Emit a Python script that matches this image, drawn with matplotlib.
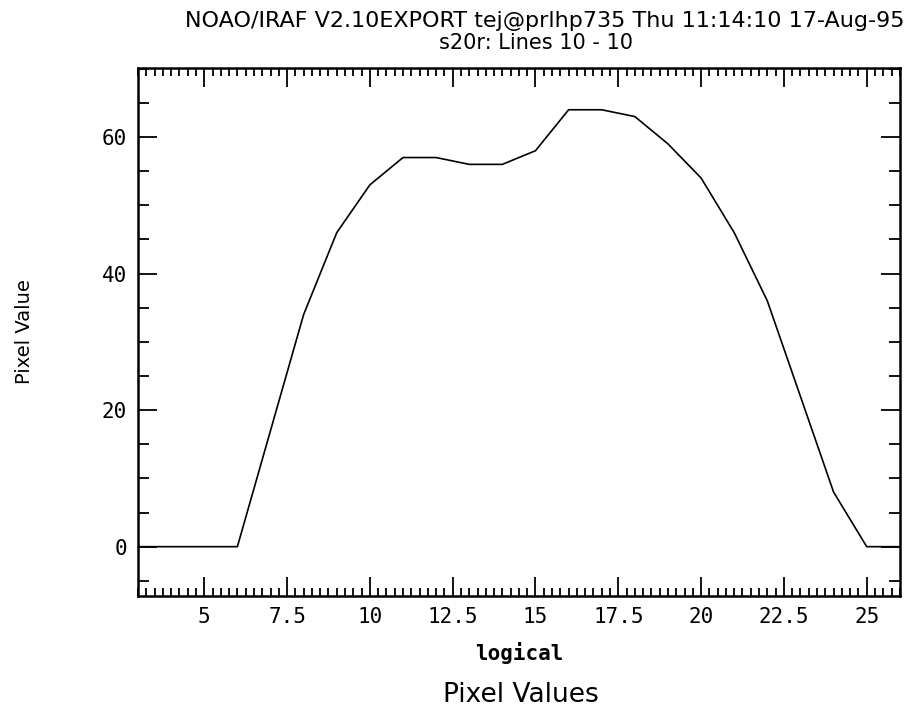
import numpy as np
import matplotlib
matplotlib.use("Agg")
import matplotlib.pyplot as plt
from matplotlib.ticker import MultipleLocator

# pixel number (logical) and value along line 10
pixel = [3, 4, 5, 6, 7, 8, 9, 10, 11, 12, 13, 14, 15, 16, 17, 18, 19, 20,
         21, 22, 23, 24, 25, 26]
value = [0, 0, 0, 0, 17, 34, 46, 53, 57, 57, 56, 56, 58, 64, 64, 63, 59, 54,
         46, 36, 22, 8, 0, 0]

xticks = [5, 7.5, 10, 12.5, 15, 17.5, 20, 22.5, 25]
xticklabels = ["5", "7.5", "10", "12.5", "15", "17.5", "20", "22.5", "25"]

title1 = "NOAO/IRAF V2.10EXPORT tej@prlhp735 Thu 11:14:10 17-Aug-95"
title2 = "s20r: Lines 10 - 10"

mono = "DejaVu Sans Mono"

fig = plt.figure(figsize=(9.08, 7.17), dpi=100)
ax = fig.add_axes([0.152, 0.169, 0.839, 0.736])

ax.plot(pixel, value, color="black", lw=1.2)
ax.set_xlim(3, 26)
ax.set_ylim(-7.2, 70.1)

ax.xaxis.set_minor_locator(MultipleLocator(0.25))
ax.yaxis.set_major_locator(MultipleLocator(20))
ax.yaxis.set_minor_locator(MultipleLocator(5))
ax.set_xticks(xticks)
ax.set_xticklabels(xticklabels)

ax.tick_params(which="both", direction="in", top=True, right=True,
               width=1.3, labelsize=15, pad=8)
ax.tick_params(which="major", length=14)
ax.tick_params(which="minor", length=6)
ax.tick_params(axis="y", which="minor", length=8)
for lab in ax.get_xticklabels() + ax.get_yticklabels():
    lab.set_family(mono)
for s in ax.spines.values():
    s.set_linewidth(1.8)

ax.set_xlabel("logical", fontsize=15, fontweight="bold", family=mono,
              labelpad=11)

fig.text(0.574, 0.012, "Pixel Values", ha="center", va="bottom", fontsize=19)
fig.text(0.027, 0.537, "Pixel Value", rotation=90, ha="center", va="center",
         fontsize=14)
fig.text(0.996, 0.9623, title1, ha="right", va="baseline", fontsize=16)
fig.text(0.59, 0.9317, title2, ha="center", va="baseline", fontsize=15)

fig.savefig("out.png", dpi=100)
